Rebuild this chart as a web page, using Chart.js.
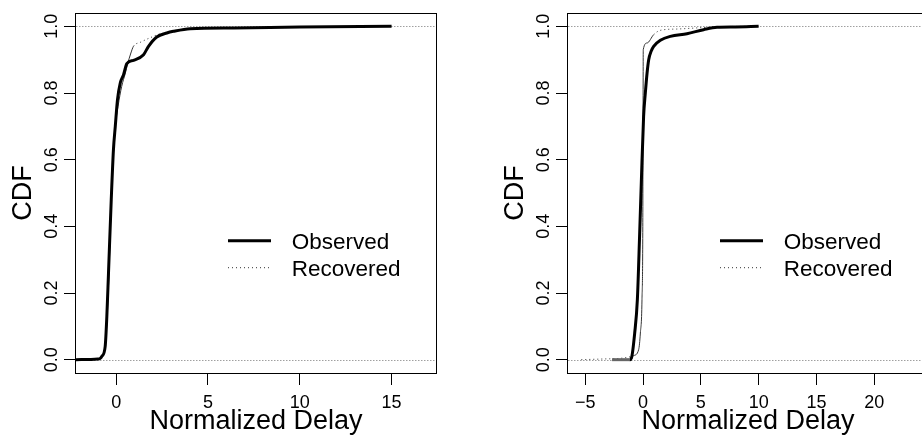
<!DOCTYPE html>
<html>
<head>
<meta charset="utf-8">
<script src="https://cdn.jsdelivr.net/npm/chart.js@4"></script>
<style>
  html, body { margin: 0; padding: 0; background: #fff; overflow: hidden; }
  #leftWrap { position: absolute; left: 0; top: 0; width: 461px; height: 435px; }
  #rightWrap { position: absolute; left: 461px; top: 0; width: 480px; height: 435px; }
</style>
</head>
<body>
<div id="leftWrap"><canvas id="leftChart" width="461" height="435"></canvas></div>
<div id="rightWrap"><canvas id="rightChart" width="480" height="435"></canvas></div>
<script>
// series names + shared axis values
const seriesNames = ['Observed', 'Recovered'];
const ticksY = [0, 0.2, 0.4, 0.6, 0.8, 1.0];
const refLinesY = [0, 1];

// left panel
const leftObsX = [-2.19, -1.0, -0.87, -0.78, -0.6, -0.51, -0.42, -0.27, -0.15, -0.05, 0.07, 0.22, 0.4, 0.58, 0.94, 1.49, 1.76, 2.21, 2.76, 3.12, 4.03, 6.4, 10, 15];
const leftObsY = [0, 0.002, 0.004, 0.01, 0.04, 0.13, 0.26, 0.48, 0.63, 0.70, 0.78, 0.83, 0.855, 0.888, 0.898, 0.915, 0.94, 0.968, 0.98, 0.985, 0.993, 0.995, 0.998, 1.0];
const leftRecX = [-2.19, -1.0, -0.85, -0.75, -0.6, -0.5, -0.4, -0.27, -0.15, -0.05, 0.1, 0.3, 0.5, 0.62, 0.8, 0.94, 1.31, 2.03, 2.3, 2.8, 3.5, 4.6, 6.4, 9, 12.7, 15];
const leftRecY = [0, 0.002, 0.005, 0.012, 0.04, 0.12, 0.25, 0.47, 0.62, 0.70, 0.76, 0.82, 0.86, 0.887, 0.92, 0.94, 0.952, 0.97, 0.976, 0.982, 0.99, 0.993, 0.995, 0.997, 0.999, 1.0];
const leftTicksX = [0, 5, 10, 15];

// right panel
const rightObsX = [-2.68, -1.5, -1.15, -1.0, -0.72, -0.49, -0.29, -0.15, 0.05, 0.2, 0.35, 0.49, 0.7, 0.92, 1.5, 2.36, 3.8, 5.24, 6.4, 8, 10];
const rightObsY = [0, 0, 0, 0.005, 0.08, 0.18, 0.38, 0.53, 0.73, 0.8, 0.86, 0.9, 0.925, 0.94, 0.958, 0.97, 0.978, 0.99, 0.997, 0.998, 1.0];
const rightRecX = [-5.34, -3.5, -2, -1.2, -0.81, -0.38, -0.23, -0.09, -0.02, 0.0, 0.02, 0.35, 0.92, 1.5, 3.0, 6.7, 10];
const rightRecY = [0, 0.002, 0.004, 0.008, 0.012, 0.03, 0.08, 0.18, 0.4, 0.7, 0.93, 0.95, 0.975, 0.988, 0.992, 0.999, 1.0];
const rightTicksX = [-5, 0, 5, 10, 15, 20];

Chart.defaults.font.family = '"Liberation Sans", Arial, Helvetica, sans-serif';
Chart.defaults.color = '#000';

const pts = (xs, ys) => xs.map((x, i) => ({x: x, y: ys[i]}));

// R-ish frame: dotted reference lines, box, and the legend inside the plot
const rFrame = {
  id: 'rFrame',
  beforeDatasetsDraw(chart) {
    const {ctx, chartArea: a, scales: {y}} = chart;
    ctx.save();
    ctx.strokeStyle = '#a0a0a0';
    ctx.lineWidth = 1;
    ctx.setLineDash([1.5, 1.5]);
    refLinesY.forEach(v => {
      const py = Math.round(y.getPixelForValue(v)) + 0.5;
      ctx.beginPath(); ctx.moveTo(a.left, py); ctx.lineTo(a.right, py); ctx.stroke();
    });
    ctx.restore();
  },
  afterDatasetsDraw(chart) {
    const {ctx, chartArea: a} = chart;
    ctx.save();
    ctx.strokeStyle = '#000';
    ctx.lineWidth = 1;
    ctx.strokeRect(a.left - 0.5, a.top + 0.5, a.right - a.left + 1, a.bottom - a.top);
    // legend
    ctx.font = '22.5px "Liberation Sans", Arial, sans-serif';
    ctx.textBaseline = 'middle';
    ctx.fillStyle = '#000';
    chart.data.datasets.forEach((ds, i) => {
      const ly = a.top + 227.7 + i * 27;
      ctx.beginPath();
      ctx.strokeStyle = ds.borderColor;
      ctx.lineWidth = ds.borderWidth;
      ctx.setLineDash(ds.borderDash || []);
      ctx.moveTo(a.left + 152, ly);
      ctx.lineTo(a.left + 195, ly);
      ctx.stroke();
      ctx.fillText(ds.label, a.left + 215.7, ly + 2.5);
    });
    ctx.restore();
  }
};

function makeChart(id, obs, rec, xMin, xMax, xTicks, padLeft, padRight) {
  return new Chart(document.getElementById(id), {
    type: 'line',
    data: {
      datasets: [{
        label: seriesNames[0],
        data: obs,
        borderColor: '#000',
        borderWidth: 3,
        pointRadius: 0,
        cubicInterpolationMode: 'monotone',
        // flat tail at 0 sits under the dotted line and reads grey
        segment: {
          borderColor: c => (c.p0.parsed.y === 0 && c.p1.parsed.y === 0) ? '#666' : undefined
        }
      }, {
        label: seriesNames[1],
        data: rec,
        borderColor: '#333',
        borderWidth: 1,
        borderDash: [1, 3],
        pointRadius: 0,
        cubicInterpolationMode: 'monotone',
        // steep stretches of the dotted ecdf look solid in the original
        segment: {
          borderDash: c => {
            const dx = Math.abs(c.p1.x - c.p0.x), dy = Math.abs(c.p1.y - c.p0.y);
            return dy > dx * 1.2 ? [] : [1, 3];
          }
        }
      }]
    },
    options: {
      responsive: false,
      animation: false,
      layout: {padding: {left: padLeft, right: padRight, top: 13, bottom: 0}},
      plugins: {legend: {display: false}, tooltip: {enabled: false}},
      scales: {
        x: {
          type: 'linear',
          min: xMin,
          max: xMax,
          afterFit: s => { s.height = 62; },
          afterBuildTicks: s => { s.ticks = xTicks.map(v => ({value: v})); },
          grid: {drawOnChartArea: false, drawTicks: true, tickLength: 12, color: '#000'},
          border: {display: false},
          ticks: {
            font: {size: 18},
            padding: 7,
            maxRotation: 0,
            callback: v => v < 0 ? '\u2212' + Math.abs(v) : String(v)
          },
          title: {display: true, text: 'Normalized Delay', font: {size: 27, lineHeight: 1}, padding: {top: 0, bottom: 0}}
        },
        y: {
          type: 'linear',
          min: -0.04,
          max: 1.04,
          afterFit: s => { s.width = 76; },
          afterBuildTicks: s => { s.ticks = ticksY.map(v => ({value: v})); },
          grid: {drawOnChartArea: false, drawTicks: true, tickLength: 12, color: '#000'},
          border: {display: false},
          ticks: {
            font: {size: 18},
            minRotation: 90,
            maxRotation: 90,
            crossAlign: 'center',
            padding: -1,
            callback: v => v.toFixed(1)
          },
          title: {display: true, text: 'CDF', font: {size: 27, lineHeight: 1}, padding: {top: 10, bottom: 0}}
        }
      }
    },
    plugins: [rFrame]
  });
}

makeChart('leftChart', pts(leftObsX, leftObsY), pts(leftRecX, leftRecY), -2.19, 17.42, leftTicksX, 0, 25);
makeChart('rightChart', pts(rightObsX, rightObsY), pts(rightRecX, rightRecY), -6.49, 24.65, rightTicksX, 31, 13);
</script>
</body>
</html>
